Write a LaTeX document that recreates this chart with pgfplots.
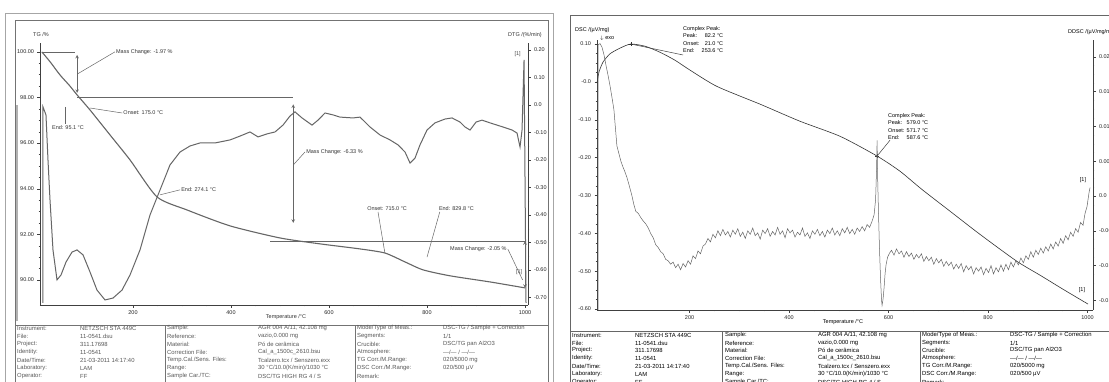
\documentclass[border=0pt]{standalone}
\usepackage{pgfplots}
\pgfplotsset{compat=1.18}
\usepackage{fontspec}
\setmainfont{Liberation Sans}
\pgfplotsset{
  netz/.style={scale only axis, anchor=south west,
    tick align=outside, major tick length=2.5pt, minor tick length=1.3pt,
    axis line style={-, black!75}, tick style={black!75, line width=0.4pt},
    ticklabel style={font=\fontsize{5.5}{6.5}\selectfont, text=black!85},
    scaled ticks=false,
    /pgf/number format/1000 sep={},
    /pgf/number format/assume math mode=true,
    clip=false},
}
\newcommand\trow[7]{%
  \node[tt] at (\xa,#1pt) {#2};\node[tt] at (\xb,#1pt) {#3};
  \node[tt] at (\xc,#1pt) {#4};\node[tt] at (\xd,#1pt) {#5};
  \node[tt] at (\xe,#1pt) {#6};\node[tt] at (\xf,#1pt) {#7};}
\begin{document}
\begin{tikzpicture}[font=\fontsize{5.5}{6.5}\selectfont,
  tt/.style={anchor=west,inner sep=0pt,font=\fontsize{5.9}{7}\selectfont}]
\useasboundingbox (0pt,0pt) rectangle (1109pt,381pt);
\begin{scope}
\clip (0pt,0pt) rectangle (1109pt,381pt);
\fill[white] (0pt,0pt) rectangle (1109pt,381pt);

% ================= LEFT PANEL =================
\draw[black!35,line width=0.6pt] (5pt,-2pt) rectangle (553pt,368pt);
\draw[black!55,line width=0.6pt] (15pt,-2pt) rectangle (548pt,361pt);
\draw[black!55,line width=0.6pt] (15pt,56pt) -- (548pt,56pt);
\draw[black!55,line width=0.5pt] (165pt,-2pt) -- (165pt,56pt);
\draw[black!55,line width=0.5pt] (355pt,-2pt) -- (355pt,56pt);
\draw[black!30,line width=1.2pt] (17pt,60pt) -- (17pt,276pt);

\begin{axis}[netz, at={(40pt,76pt)}, width=488pt, height=262pt,
  xmin=10.2, xmax=1006.1, ymin=88.90, ymax=100.39,
  axis x line*=bottom, axis y line*=left,
  xtick={200,400,600,800,1000}, minor x tick num=3,
  ytick={90,92,94,96,98,100}, minor y tick num=3,
  yticklabels={90.00,92.00,94.00,96.00,98.00,100.00}]
\addplot[black!60, line width=1.1pt, smooth, tension=0.4] coordinates {
 (14,100.00) (31,99.56) (51,98.99) (71,98.51) (86,98.11) (112,97.46)
 (153,96.36) (194,95.26) (249,93.64) (310,93.07) (398,92.37) (500,91.84)
 (582,91.58) (663,91.36) (714,91.18) (755,90.79) (792,90.44) (847,90.18)
 (929,89.91) (1000,89.65)};
\draw[black!60,line width=0.6pt] (axis cs:14,100) -- (axis cs:82,100);
\draw[black!60,line width=0.6pt,<->,>=stealth] (axis cs:86,99.87) -- (axis cs:86,98.2);
\draw[black!60,line width=0.6pt] (axis cs:86,98.03) -- (axis cs:527,98.03);
\draw[black!60,line width=0.5pt] (axis cs:88,99.05) -- (axis cs:163,100.0)
  node[anchor=west,inner sep=1pt,text=black!80] {Mass Change: -1.97 \%};
\draw[black!60,line width=0.6pt,<->,>=stealth] (axis cs:527,97.7) -- (axis cs:527,92.5);
\draw[black!60,line width=0.5pt] (axis cs:527,95.04) -- (axis cs:551,95.61)
  node[anchor=west,inner sep=1pt,text=black!80] {Mass Change: -6.33 \%};
\draw[black!60,line width=0.6pt] (axis cs:480,91.7) -- (axis cs:1000,91.7);
\draw[black!60,line width=0.5pt] (axis cs:714,91.18) -- (axis cs:700,92.98)
  node[anchor=south west,inner sep=1pt,text=black!80,xshift=-12pt] {Onset: 715.0 °C};
\draw[black!60,line width=0.5pt] (axis cs:800,91.0) -- (axis cs:826,92.98)
  node[anchor=south west,inner sep=1pt,text=black!80,xshift=-2pt] {End: 829.8 °C};
\draw[black!60,line width=0.6pt,<->,>=stealth] (axis cs:1000,91.7) -- (axis cs:1000,89.65);
\draw[black!60,line width=0.5pt] (axis cs:995,90.0) -- (axis cs:965,91.35)
  node[anchor=east,inner sep=1pt,text=black!80] {Mass Change: -2.05 \%};
\draw[black!60,line width=0.5pt] (axis cs:61,97.59) -- (axis cs:61,96.84)
  node[anchor=north west,inner sep=1pt,text=black!80,xshift=-14pt] {End: 95.1 °C};
\draw[black!60,line width=0.5pt] (axis cs:112,97.54) -- (axis cs:178,97.32)
  node[anchor=west,inner sep=1pt,text=black!80] {Onset: 175.0 °C};
\draw[black!60,line width=0.5pt] (axis cs:255,93.73) -- (axis cs:296,93.95)
  node[anchor=west,inner sep=1pt,text=black!80] {End: 274.1 °C};
\node[text=black!70,inner sep=0pt] at (axis cs:985,99.9) {[1]};
\node[text=black!70,inner sep=0pt] at (axis cs:988,90.35) {[1]};
\end{axis}

\begin{axis}[netz, at={(40pt,76pt)}, width=488pt, height=262pt,
  xmin=10.2, xmax=1006.1, ymin=-0.7273, ymax=0.2255,
  axis x line=none, axis y line*=right,
  ytick={-0.7,-0.6,-0.5,-0.4,-0.3,-0.2,-0.1,0,0.1,0.2}, minor y tick num=1,
  yticklabels={-0.70,-0.60,-0.50,-0.40,-0.30,-0.20,-0.10,0.0,0.10,0.20}]
\addplot[black!60, line width=1.0pt] coordinates {
 (16.3,-0.72) (16.3,-0.007) (22.4,-0.036) (26.5,-0.200) (30.6,-0.345) (36.7,-0.527)
 (44.9,-0.636) (53.1,-0.618) (63.3,-0.571) (75.5,-0.535) (85.7,-0.527) (98.0,-0.545)
 (112.2,-0.607) (126.5,-0.673) (142.9,-0.709) (159.2,-0.702) (177.6,-0.673) (193.9,-0.618)
 (214.3,-0.527) (234.7,-0.400) (255.1,-0.309) (275.5,-0.218) (295.9,-0.171) (316.3,-0.149)
 (336.7,-0.138) (367.3,-0.138) (398.0,-0.127) (418.4,-0.113) (438.8,-0.098) (455.1,-0.116)
 (473.5,-0.105) (489.8,-0.098) (506.1,-0.073) (520.4,-0.040) (530.6,-0.025) (544.9,-0.047)
 (565.3,-0.073) (577.6,-0.055) (591.8,-0.029) (608.2,-0.036) (622.4,-0.044) (649.0,-0.047)
 (663.3,-0.044) (683.7,-0.080) (704.1,-0.109) (724.5,-0.127) (740.8,-0.145) (755.1,-0.171)
 (765.3,-0.211) (775.5,-0.193) (785.7,-0.145) (800.0,-0.091) (816.3,-0.065) (836.7,-0.051)
 (851.0,-0.047) (867.3,-0.062) (877.6,-0.080) (887.8,-0.091) (900.0,-0.062) (912.2,-0.055)
 (928.6,-0.065) (955.1,-0.080) (973.5,-0.091) (983.7,-0.102) (989.8,-0.153) (993.9,-0.091)
 (998.0,0.164) (1000.0,-0.273) (1002.0,-0.72)};
\end{axis}

\node[anchor=west,inner sep=0pt,text=black!80] at (33pt,346pt) {TG /\%};
\node[anchor=west,inner sep=0pt,text=black!80] at (508pt,346pt) {DTG /(\%/min)};
\node[inner sep=0pt,text=black!80] at (286pt,64pt) {Temperature /°C};

\begin{scope}[text=black!65]
\def\xa{17pt}\def\xb{80pt}\def\xc{167pt}\def\xd{258pt}\def\xe{357pt}\def\xf{443pt}
\trow{53}{Instrument:}{NETZSCH STA 449C}{Sample:}{AGR 004 A/11, 42.108 mg}{Mode/Type of Meas.:}{DSC-TG / Sample + Correction}
\trow{45}{File:}{11-0541.dsu}{Reference:}{vazio,0.000 mg}{Segments:}{1/1}
\trow{37}{Project:}{311.17698}{Material:}{Pó de cerâmica}{Crucible:}{DSC/TG pan Al2O3}
\trow{29}{Identity:}{11-0541}{Correction File:}{Cal\_a\_1500c\_2610.bsu}{Atmosphere:}{---/--- / ---/---}
\trow{21}{Date/Time:}{21-03-2011 14:17:40}{Temp.Cal./Sens. Files:}{Tcalzero.tcx / Senszero.exx}{TG Corr./M.Range:}{020/5000 mg}
\trow{13}{Laboratory:}{LAM}{Range:}{30 °C/10.0(K/min)/1030 °C}{DSC Corr./M.Range:}{020/500 µV}
\trow{5}{Operator:}{FF}{Sample Car./TC:}{DSC/TG HIGH RG 4 / S}{Remark:}{}
\end{scope}

% ================= RIGHT PANEL =================
\draw[black!60,line width=0.6pt] (570pt,-2pt) rectangle (1115pt,366pt);
\draw[black!60,line width=0.6pt] (570pt,50pt) -- (1115pt,50pt);
\draw[black!60,line width=0.5pt] (722pt,-2pt) -- (722pt,50pt);
\draw[black!60,line width=0.5pt] (920pt,-2pt) -- (920pt,50pt);

\begin{axis}[netz, at={(597pt,71pt)}, width=496pt, height=270pt,
  xmin=14, xmax=1011, ymin=-0.6026, ymax=0.1106,
  axis x line*=bottom, axis y line*=left,
  xtick={200,400,600,800,1000}, minor x tick num=3,
  ytick={-0.6,-0.5,-0.4,-0.3,-0.2,-0.1,0,0.1}, minor y tick num=3,
  yticklabels={-0.60,-0.50,-0.40,-0.30,-0.20,-0.10,-0.0,0.10}]
\addplot[black!80, line width=0.6pt, smooth, tension=0.4] coordinates {
 (14,-0.003) (18,0.026) (26,0.052) (40,0.074) (60,0.089) (82,0.100) (111,0.094)
 (141,0.078) (171,0.057) (201,0.031) (255,-0.012) (342,-0.059) (422,-0.104)
 (503,-0.144) (577,-0.196) (623,-0.236) (667,-0.284) (724,-0.342) (784,-0.403)
 (858,-0.474) (905,-0.511) (951,-0.548) (1001,-0.587)};
\addplot[black!75, line width=0.5pt] coordinates {(82,0.100) (187,0.071)};
\addplot[black!75, line width=0.5pt] coordinates {(577,-0.196) (603,-0.154)};
\addplot[only marks, mark=+, mark size=2pt, black!80] coordinates {(82,0.100) (577,-0.196)};
\end{axis}

\begin{axis}[netz, at={(597pt,71pt)}, width=496pt, height=270pt,
  xmin=14, xmax=1011, ymin=-0.016379, ymax=0.022414,
  axis x line=none, axis y line*=right,
  ytick={-0.015,-0.01,-0.005,0,0.005,0.01,0.015,0.02}, minor y tick num=3,
  yticklabels={-0.015,-0.010,-0.005,0.0,0.005,0.010,0.015,0.020}]
\addplot[black!60, line width=0.5pt] coordinates {
 (16,-0.0164) (16,0.0217) (20,0.0219) (24,0.0214) (28,0.0203) (32,0.0188) (36,0.0174)
 (40,0.0159) (44,0.0142) (48,0.0124) (51,0.0098) (54,0.0072) (58,0.0061) (62,0.0050)
 (66,0.0042) (70,0.0035) (74,0.0027) (78,0.0017) (84,0.0001) (88,-0.0012) (92,-0.0022)
 (97,-0.0025) (102,-0.0031) (107,-0.0036) (112,-0.0040) (117,-0.0046) (122,-0.0054)
 (127,-0.0060) (132,-0.0070) (137,-0.0074) (142,-0.0080) (147,-0.0083) (152,-0.0091)
 (157,-0.0093) (162,-0.0098) (167,-0.0095) (172,-0.0103) (177,-0.0098) (182,-0.0106)
 (187,-0.0097) (192,-0.0102) (197,-0.0093) (202,-0.0098) (207,-0.0086) (212,-0.0090)
 (217,-0.0079) (222,-0.0083) (227,-0.0072) (232,-0.0069) (237,-0.0061) (242,-0.0066)
 (247,-0.0055) (252,-0.0060) (257,-0.0050) (262,-0.0057) (267,-0.0048) (272,-0.0056)
 (277,-0.0051) (282,-0.0059) (287,-0.0049) (292,-0.0055) (297,-0.0047) (302,-0.0058)
 (307,-0.0052) (312,-0.0061) (317,-0.0050) (322,-0.0055) (327,-0.0046) (332,-0.0057)
 (337,-0.0053) (342,-0.0062) (347,-0.0049) (352,-0.0054) (357,-0.0047) (362,-0.0058)
 (367,-0.0051) (372,-0.0056) (377,-0.0045) (382,-0.0055) (387,-0.0050) (392,-0.0060)
 (397,-0.0047) (402,-0.0053) (407,-0.0049) (412,-0.0059) (417,-0.0052) (422,-0.0056)
 (427,-0.0046) (432,-0.0058) (437,-0.0053) (442,-0.0061) (447,-0.0050) (452,-0.0055)
 (457,-0.0048) (462,-0.0057) (467,-0.0051) (472,-0.0059) (477,-0.0049) (482,-0.0054)
 (487,-0.0046) (492,-0.0056) (497,-0.0050) (502,-0.0057) (507,-0.0047) (512,-0.0053)
 (517,-0.0045) (522,-0.0054) (527,-0.0048) (532,-0.0055) (537,-0.0046) (542,-0.0051)
 (547,-0.0044) (552,-0.0050) (557,-0.0041) (562,-0.0045) (567,-0.0036) (571,-0.0027)
 (574,-0.0005) (576,0.0040) (577,0.0080) (578,0.0030) (580,-0.0030) (582,-0.0080)
 (584,-0.0120) (586,-0.0150) (587,-0.0157) (589,-0.0148) (591,-0.0132) (593,-0.0112)
 (595,-0.0099) (598,-0.0088) (602,-0.0082) (606,-0.0078) (611,-0.0085) (616,-0.0076)
 (621,-0.0083) (626,-0.0079) (631,-0.0088) (636,-0.0080) (641,-0.0087) (646,-0.0082)
 (651,-0.0091) (656,-0.0084) (661,-0.0089) (666,-0.0083) (671,-0.0094) (676,-0.0087)
 (681,-0.0093) (686,-0.0088) (691,-0.0098) (696,-0.0090) (701,-0.0096) (706,-0.0091)
 (711,-0.0101) (716,-0.0094) (721,-0.0100) (726,-0.0095) (731,-0.0105) (736,-0.0098)
 (741,-0.0104) (746,-0.0097) (751,-0.0109) (756,-0.0100) (761,-0.0106) (766,-0.0101)
 (771,-0.0112) (776,-0.0103) (781,-0.0108) (786,-0.0102) (791,-0.0113) (796,-0.0104)
 (801,-0.0110) (806,-0.0100) (811,-0.0112) (816,-0.0103) (821,-0.0109) (826,-0.0099)
 (831,-0.0108) (836,-0.0098) (841,-0.0106) (846,-0.0095) (851,-0.0102) (856,-0.0093)
 (861,-0.0099) (866,-0.0089) (871,-0.0096) (876,-0.0086) (881,-0.0091) (886,-0.0080)
 (891,-0.0088) (896,-0.0078) (901,-0.0084) (906,-0.0075) (911,-0.0082) (916,-0.0073)
 (921,-0.0079) (926,-0.0069) (931,-0.0076) (936,-0.0066) (941,-0.0072) (946,-0.0061)
 (951,-0.0068) (956,-0.0057) (961,-0.0063) (966,-0.0052) (971,-0.0058) (976,-0.0047)
 (981,-0.0052) (986,-0.0038) (991,-0.0042) (995,-0.0025) (999,-0.0015) (1003,0.0005)
 (1005,0.0012)};
\end{axis}

\node[anchor=west,inner sep=0pt] at (575pt,351pt) {DSC /(µV/mg)};
\node[anchor=west,inner sep=0pt] at (600pt,343pt) {$\downarrow$ exo};
\node[anchor=west,inner sep=0pt] at (1068pt,349pt) {DDSC /(µV/mg/min)};
\node[inner sep=0pt] at (843pt,59pt) {Temperature /°C};
\node[anchor=north west,inner sep=0pt,align=left,font=\fontsize{5.5}{7.6}\selectfont] at (683pt,355pt)
 {Complex Peak:\\
  \makebox[18pt][l]{Peak:}\makebox[22pt][r]{82.2 °C}\\
  \makebox[18pt][l]{Onset:}\makebox[22pt][r]{21.0 °C}\\
  \makebox[18pt][l]{End:}\makebox[22pt][r]{253.6 °C}};
\node[anchor=north west,inner sep=0pt,align=left,font=\fontsize{5.5}{7.6}\selectfont] at (888pt,268pt)
 {Complex Peak:\\
  \makebox[18pt][l]{Peak:}\makebox[22pt][r]{579.0 °C}\\
  \makebox[18pt][l]{Onset:}\makebox[22pt][r]{571.7 °C}\\
  \makebox[18pt][l]{End:}\makebox[22pt][r]{587.6 °C}};
\node[inner sep=0pt] at (1083pt,201pt) {[1]};
\node[inner sep=0pt] at (1082pt,91pt) {[1]};

\begin{scope}
\def\xa{572pt}\def\xb{635pt}\def\xc{725pt}\def\xd{818pt}\def\xe{922pt}\def\xf{1010pt}
\trow{46}{Instrument:}{NETZSCH STA 449C}{Sample:}{AGR 004 A/11, 42.108 mg}{Mode/Type of Meas.:}{DSC-TG / Sample + Correction}
\trow{38}{File:}{11-0541.dsu}{Reference:}{vazio,0.000 mg}{Segments:}{1/1}
\trow{31}{Project:}{311.17698}{Material:}{Pó de cerâmica}{Crucible:}{DSC/TG pan Al2O3}
\trow{23}{Identity:}{11-0541}{Correction File:}{Cal\_a\_1500c\_2610.bsu}{Atmosphere:}{---/--- / ---/---}
\trow{15}{Date/Time:}{21-03-2011 14:17:40}{Temp.Cal./Sens. Files:}{Tcalzero.tcx / Senszero.exx}{TG Corr./M.Range:}{020/5000 mg}
\trow{7}{Laboratory:}{LAM}{Range:}{30 °C/10.0(K/min)/1030 °C}{DSC Corr./M.Range:}{020/500 µV}
\trow{-1}{Operator:}{FF}{Sample Car./TC:}{DSC/TG HIGH RG 4 / S}{Remark:}{}
\end{scope}
\end{scope}
\end{tikzpicture}
\end{document}
